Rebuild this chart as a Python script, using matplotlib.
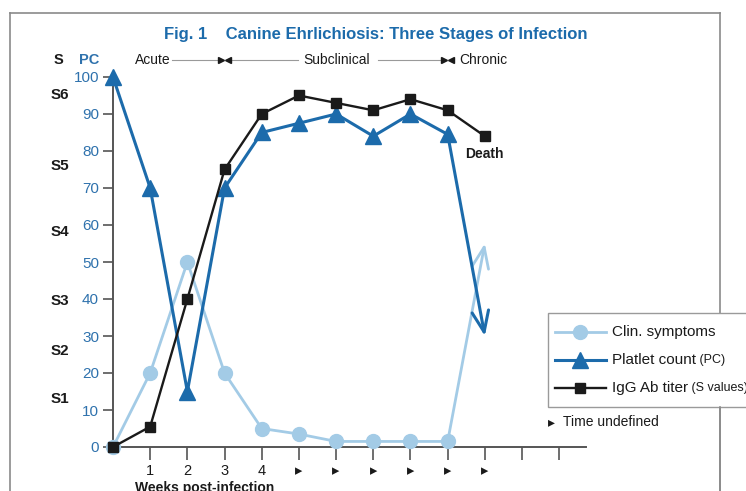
import numpy as np
import matplotlib
matplotlib.use("Agg")
import matplotlib.pyplot as plt
from matplotlib.lines import Line2D
from matplotlib.patches import Rectangle

plt.rcParams['font.family'] = ['Liberation Sans', 'DejaVu Sans']

# data
weeks = [0, 1, 2, 3, 4, 5, 6, 7, 8, 9]
clin = [0, 20, 50, 20, 5, 3.5, 1.5, 1.5, 1.5, 1.5]
platelet = [100, 70, 15, 70, 85, 87.5, 90, 84, 90, 84.5]
igg_weeks = [0, 1, 2, 3, 4, 5, 6, 7, 8, 9, 10]
igg = [0, 5.5, 40, 75, 90, 95, 93, 91, 94, 91, 84]
end_week = 10
clin_end = 55
platelet_end = 30

xticks = [1, 2, 3, 4, 5, 6, 7, 8, 9, 10, 11, 12]
xticklabels = ['1', '2', '3', '4', '▸', '▸', '▸', '▸', '▸', '▸', '', '']
pc_ticks = [0, 10, 20, 30, 40, 50, 60, 70, 80, 90, 100]
s_labels = ['S1', 'S2', 'S3', 'S4', 'S5', 'S6']
s_pos = [13, 26, 39.5, 58, 76, 95]
stages = ['Acute', 'Subclinical', 'Chronic']
stage_bounds = [3, 9]

LIGHT = '#a3cbe6'
BLUE = '#1c6bab'
PCBLUE = '#2f72ad'
BLACK = '#1a1a1a'
GRAY = '#8a8a8a'

W, H = 746, 491
fig = plt.figure(figsize=(W / 100, H / 100), dpi=100)

def fx(px):
    return px / W

def fy(py):
    return 1 - py / H

ax = fig.add_axes([fx(113), fy(447), fx(586) - fx(113), fy(77) - fy(447)])
ax.set_xlim(0, 12.72)
ax.set_ylim(0, 100)
for s in ['top', 'right']:
    ax.spines[s].set_visible(False)
for s in ['left', 'bottom']:
    ax.spines[s].set_color('#555555')
    ax.spines[s].set_linewidth(1.4)

ax.set_xticks(xticks)
ax.set_xticklabels(xticklabels, fontsize=10.5, color=BLACK)
ax.set_yticks(pc_ticks)
ax.set_yticklabels([str(t) for t in pc_ticks], fontsize=11, color=PCBLUE)
ax.tick_params(axis='x', length=9, width=1.2, color='#555555', pad=3)
ax.tick_params(axis='y', length=7, width=1.2, color='#555555', pad=3)

# series
ax.plot(weeks, clin, '-o', color=LIGHT, lw=2, ms=10, clip_on=False, zorder=3)
ax.plot(weeks, platelet, '-^', color=BLUE, lw=2.2, ms=11, clip_on=False, zorder=4)
ax.plot(igg_weeks, igg, '-s', color=BLACK, lw=1.7, ms=7.5, mfc=BLACK, clip_on=False, zorder=5)

ax.annotate('', xy=(end_week, clin_end), xytext=(weeks[-1], clin[-1]),
            arrowprops=dict(arrowstyle='->,head_length=1.5,head_width=0.6',
                            color=LIGHT, lw=2, shrinkA=0, shrinkB=0), zorder=3)
ax.annotate('', xy=(end_week, platelet_end), xytext=(weeks[-1], platelet[-1]),
            arrowprops=dict(arrowstyle='->,head_length=1.5,head_width=0.6',
                            color=BLUE, lw=2.2, shrinkA=0, shrinkB=0), zorder=4)

ax.annotate('Death', xy=(igg_weeks[-1], igg[-1]), xytext=(0, -12.5), textcoords='offset points',
            ha='center', va='center', fontsize=10, fontweight='bold', color=BLACK)

# left S scale
ytr = ax.get_yaxis_transform()
for lab, p in zip(s_labels, s_pos):
    ax.text(-0.112, p, lab, transform=ytr, ha='center', va='center',
            fontsize=11, fontweight='bold', color=BLACK)
ax.text(-0.116, 104.6, 'S', transform=ytr, ha='center', va='center',
        fontsize=10.5, fontweight='bold', color=BLACK)
ax.text(-0.051, 104.6, 'PC', transform=ytr, ha='center', va='center',
        fontsize=10.5, fontweight='bold', color=PCBLUE)

# stage header
yh = 104.6
ax.text(1.08, yh, stages[0], ha='center', va='center', fontsize=10, color=BLACK)
ax.text(6.02, yh, stages[1], ha='center', va='center', fontsize=10, color=BLACK)
ax.text(9.3, yh, stages[2], ha='left', va='center', fontsize=10, color=BLACK)
segs = [(1.6, stage_bounds[0] - 0.05), (stage_bounds[0] + 0.05, 4.97),
        (7.12, stage_bounds[1] - 0.05), (stage_bounds[1] + 0.05, stage_bounds[1] + 0.1)]
for a, b in segs:
    ax.plot([a, b], [yh, yh], color='#9a9a9a', lw=0.8, clip_on=False)
for b in stage_bounds:
    ax.plot([b - 0.09], [yh], marker='>', color=BLACK, ms=4.5, clip_on=False)
    ax.plot([b + 0.09], [yh], marker='<', color=BLACK, ms=4.5, clip_on=False)

ax.text(2.47, -11.2, 'Weeks post-infection', ha='center', va='center', fontsize=10,
        fontweight='bold', color=BLACK)

# title
fig.text(fx(376), fy(35), 'Fig. 1    Canine Ehrlichiosis: Three Stages of Infection',
         ha='center', va='center', fontsize=12, fontweight='bold', color=BLUE)

# frame
for xs, ys in [([10, 720], [13, 13]), ([10, 10], [13, 491]), ([720, 720], [13, 491])]:
    fig.add_artist(Line2D([fx(x) for x in xs], [fy(y) for y in ys], color=GRAY, lw=1.2))

# legend box
fig.add_artist(Rectangle((fx(548), fy(407)), fx(800) - fx(548), fy(313) - fy(407),
                         facecolor='white', edgecolor='#9a9a9a', lw=1, zorder=10))
leg = [('Clin. symptoms', '', LIGHT, 'o', 10, 2), ('Platlet count', ' (PC)', BLUE, '^', 11, 2.2),
       ('IgG Ab titer', ' (S values)', BLACK, 's', 7.5, 1.7)]
rend = fig.canvas.get_renderer()
for i, (main, small, col, mk, ms, lw) in enumerate(leg):
    y = 332 + i * 28
    fig.add_artist(Line2D([fx(555), fx(606)], [fy(y), fy(y)], color=col, lw=lw, zorder=11))
    fig.add_artist(Line2D([fx(580)], [fy(y)], marker=mk, color=col, ms=ms, zorder=12))
    t = fig.text(fx(612), fy(y), main, ha='left', va='center', fontsize=11, color=BLACK, zorder=12)
    if small:
        bb = t.get_window_extent(renderer=rend)
        fig.text(bb.x1 / W, fy(y) - 0.001, small, ha='left', va='center', fontsize=9,
                 color=BLACK, zorder=12)
fig.add_artist(Line2D([fx(720), fx(720)], [fy(407), fy(491)], color=GRAY, lw=1.2, zorder=11))
fig.text(fx(548), fy(422), '▸', ha='left', va='center', fontsize=10, color=BLACK,
         family=['DejaVu Sans'])
fig.text(fx(563), fy(422), 'Time undefined', ha='left', va='center', fontsize=10, color=BLACK)

fig.savefig('out.png', dpi=100)
